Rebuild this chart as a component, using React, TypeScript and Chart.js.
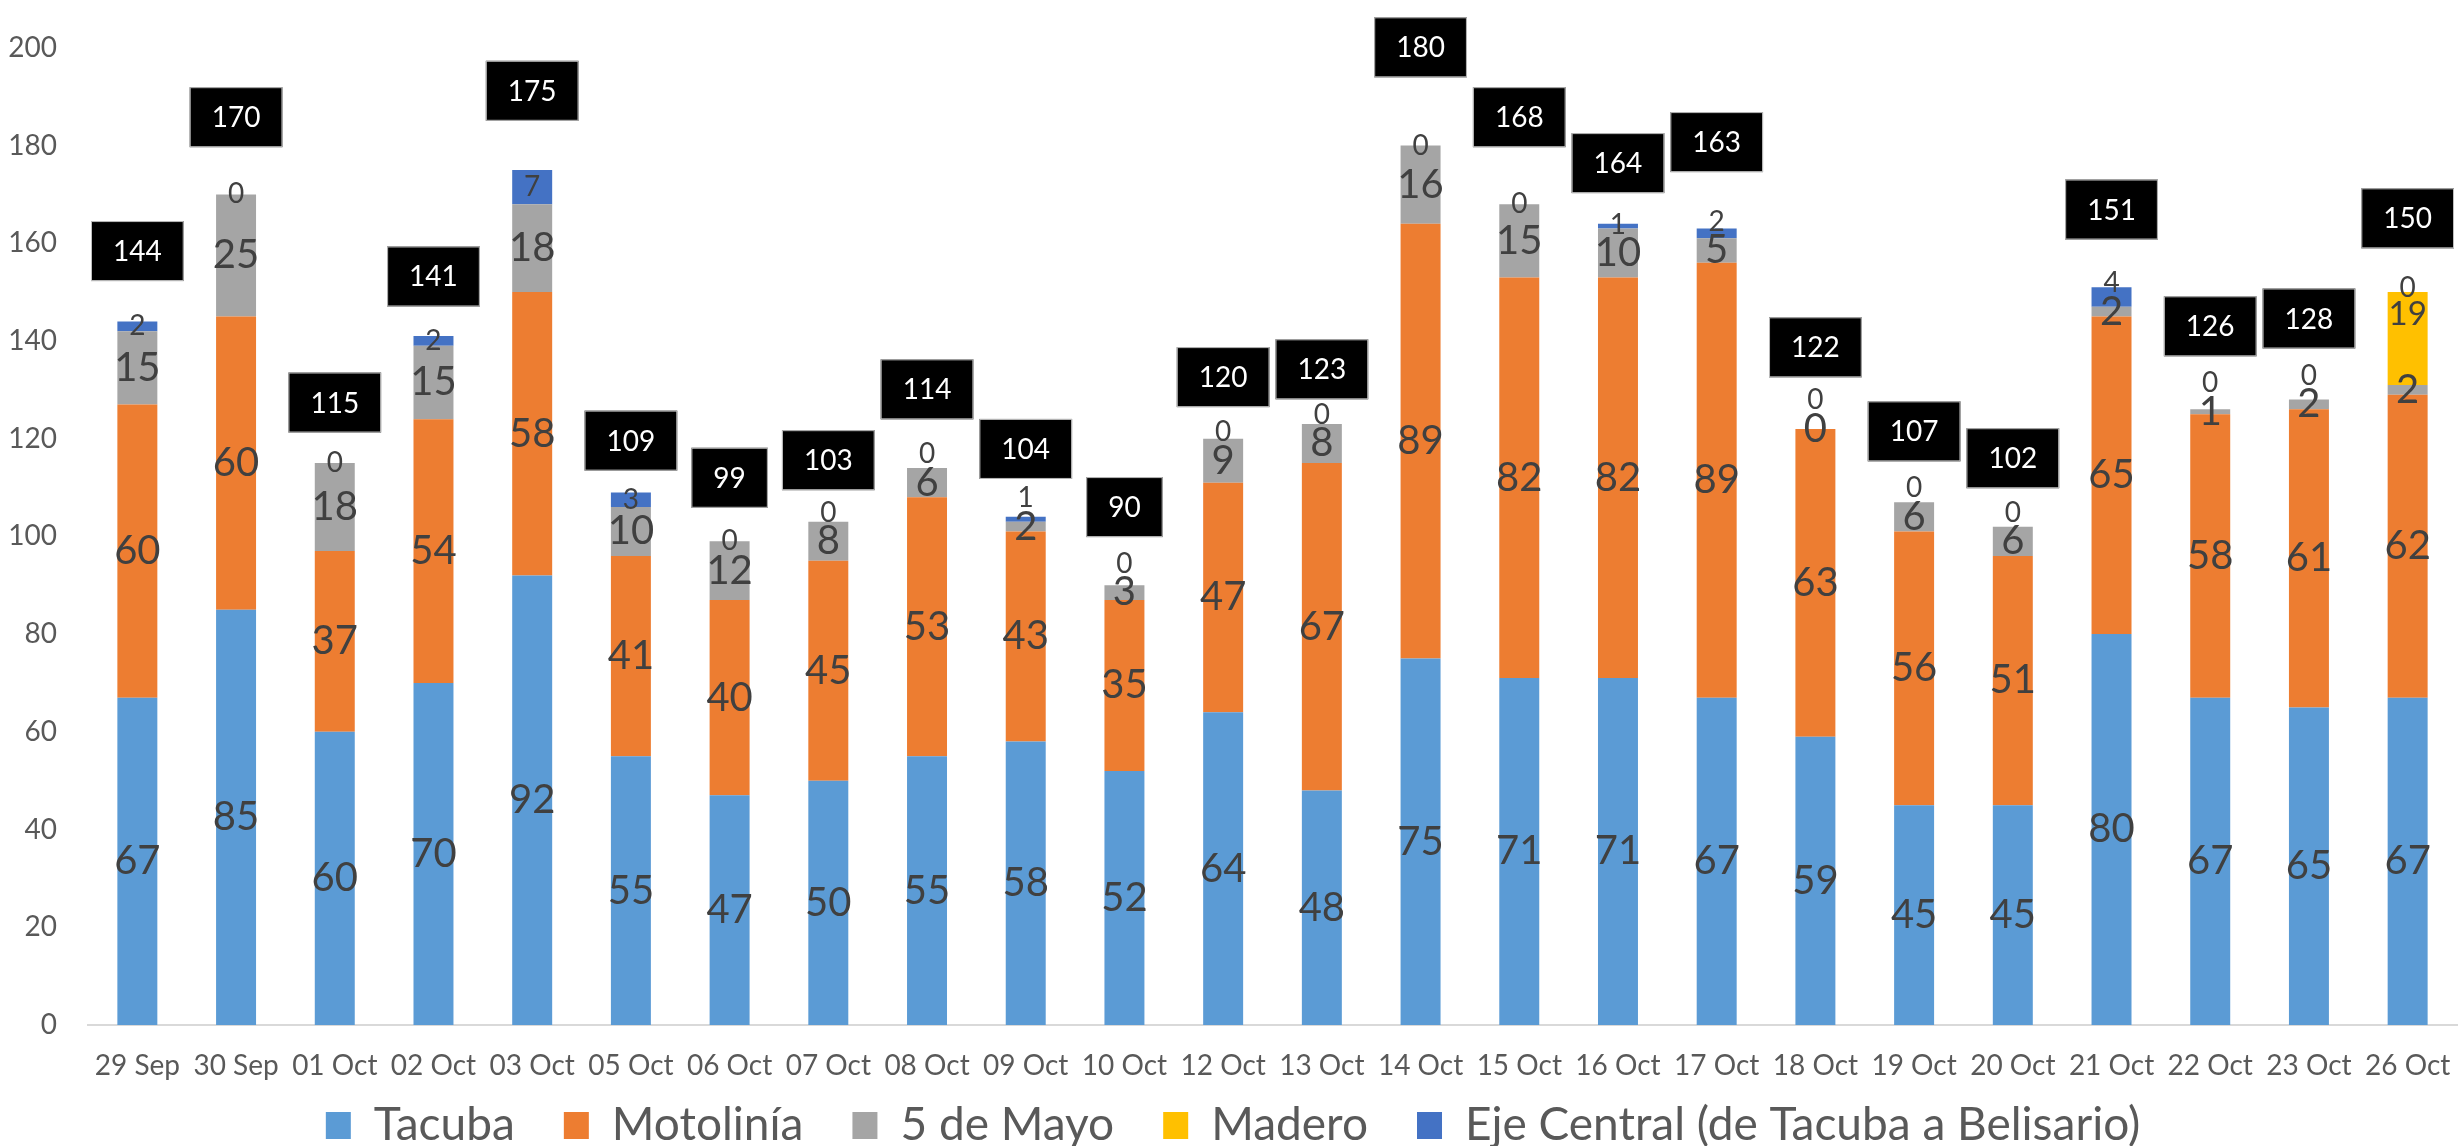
import React, { useEffect, useRef } from 'react';
import { Chart, registerables } from 'chart.js';

Chart.register(...registerables);

// ---------- data ----------
const categories = [
  '29 Sep', '30 Sep', '01 Oct', '02 Oct', '03 Oct', '05 Oct', '06 Oct', '07 Oct',
  '08 Oct', '09 Oct', '10 Oct', '12 Oct', '13 Oct', '14 Oct', '15 Oct', '16 Oct',
  '17 Oct', '18 Oct', '19 Oct', '20 Oct', '21 Oct', '22 Oct', '23 Oct', '26 Oct',
];
const tacuba = [67, 85, 60, 70, 92, 55, 47, 50, 55, 58, 52, 64, 48, 75, 71, 71, 67, 59, 45, 45, 80, 67, 65, 67];
const motolinia = [60, 60, 37, 54, 58, 41, 40, 45, 53, 43, 35, 47, 67, 89, 82, 82, 89, 63, 56, 51, 65, 58, 61, 62];
const cincoDeMayo = [15, 25, 18, 15, 18, 10, 12, 8, 6, 2, 3, 9, 8, 16, 15, 10, 5, 0, 6, 6, 2, 1, 2, 2];
const madero: (number | null)[] = [
  null, null, null, null, null, null, null, null, null, null, null, null,
  null, null, null, null, null, null, null, null, null, null, null, 19,
];
const ejeCentral = [2, 0, 0, 2, 7, 3, 0, 0, 0, 1, 0, 0, 0, 0, 0, 1, 2, 0, 0, 0, 4, 0, 0, 0];
// level (in chart units) at which each total label box sits
const totalLabelLevel = [
  158.4, 185.8, 127.4, 153.2, 191.2, 119.6, 112.0, 115.6, 130.1, 117.9, 106.0, 132.6,
  134.2, 200.1, 185.8, 176.4, 180.7, 138.7, 121.5, 116.0, 166.9, 143.0, 144.6, 165.1,
];
const seriesNames = ['Tacuba', 'Motolinía', '5 de Mayo', 'Madero', 'Eje Central (de Tacuba a Belisario)'];
const yMin = 0;
const yMax = 200;
const yStep = 20;

// ---------- styles ----------
const FONT = 'Lato';
const seriesColors = ['#5B9BD5', '#ED7D31', '#A5A5A5', '#FFC000', '#4472C4'];
const labelSizes = [40, 40, 40, 33, 28];
const labelAnchors = ['center', 'center', 'center', 'insideEnd', 'center'];

const segmentLabels = {
  id: 'segmentLabels',
  afterDatasetsDraw(chart: any) {
    const ctx = chart.ctx;
    const datasets = chart.data.datasets;
    const metas = datasets.map((_: any, di: number) => chart.getDatasetMeta(di));
    ctx.save();
    ctx.fillStyle = '#404040';
    ctx.textAlign = 'center';
    ctx.textBaseline = 'middle';
    for (let i = 0; i < categories.length; i++) {
      let prevCenter = Infinity;
      let prevHalf = 0;
      datasets.forEach((ds: any, di: number) => {
        const v = ds.data[i];
        if (v === null || v === undefined) return;
        const el = metas[di].data[i];
        if (!el) return;
        const p = el.getProps(['x', 'y', 'base'], true);
        const size = labelSizes[di];
        const half = size * 0.36;
        let cy = labelAnchors[di] === 'insideEnd' ? p.y + half + 10 : (p.y + p.base) / 2;
        const limit = prevCenter - (prevHalf + half + 4);
        if (cy > limit) cy = limit;
        ctx.font = `${size}px ${FONT}`;
        ctx.fillText(String(v), p.x, cy);
        prevCenter = cy;
        prevHalf = half;
      });
    }
    ctx.restore();
  },
};

const totalBoxes = {
  id: 'totalBoxes',
  afterDraw(chart: any) {
    const ctx = chart.ctx;
    const xs = chart.scales.x;
    const ys = chart.scales.y;
    ctx.save();
    ctx.font = `28px ${FONT}`;
    ctx.textAlign = 'center';
    ctx.textBaseline = 'middle';
    categories.forEach((_, i) => {
      const total =
        tacuba[i] + motolinia[i] + cincoDeMayo[i] + (madero[i] ?? 0) + ejeCentral[i];
      const txt = String(total);
      const cx = xs.getPixelForValue(i);
      const cy = ys.getPixelForValue(totalLabelLevel[i]);
      const w = ctx.measureText(txt).width + 44;
      const h = 60;
      ctx.fillStyle = '#000000';
      ctx.fillRect(cx - w / 2, cy - h / 2, w, h);
      ctx.strokeStyle = '#BFBFBF';
      ctx.lineWidth = 1;
      ctx.strokeRect(cx - w / 2 + 0.5, cy - h / 2 + 0.5, w - 1, h - 1);
      ctx.fillStyle = '#FFFFFF';
      ctx.fillText(txt, cx, cy + 1);
    });
    ctx.restore();
  },
};

export default function App() {
  const ref = useRef<HTMLCanvasElement | null>(null);

  useEffect(() => {
    if (!ref.current) return;
    const seriesData = [tacuba, motolinia, cincoDeMayo, madero, ejeCentral];
    const chart = new Chart(ref.current, {
      type: 'bar',
      data: {
        labels: categories,
        datasets: seriesData.map((d, i) => ({
          label: seriesNames[i],
          data: d as any,
          backgroundColor: seriesColors[i],
          borderWidth: 0,
          barPercentage: 0.405,
          categoryPercentage: 1,
        })),
      },
      options: {
        responsive: false,
        animation: false,
        devicePixelRatio: 1,
        layout: { padding: { top: 43, right: 1, bottom: -12.5, left: 9 } },
        plugins: {
          legend: {
            position: 'bottom',
            labels: {
              font: { family: FONT, size: 46 },
              color: '#595959',
              boxWidth: 25,
              boxHeight: 27,
              padding: 49,
            },
          },
          tooltip: { enabled: false },
        },
        scales: {
          x: {
            stacked: true,
            grid: { display: false, drawTicks: false },
            border: { display: true, color: '#D9D9D9', width: 2 },
            ticks: {
              font: { family: FONT, size: 28 },
              color: '#595959',
              mirror: true,
              padding: -57.8,
              maxRotation: 0,
              autoSkip: false,
            },
            afterFit: (s: any) => {
              s.height = 28.5;
            },
          },
          y: {
            stacked: true,
            min: yMin,
            max: yMax,
            grid: { display: false, drawTicks: false },
            border: { display: false },
            ticks: {
              stepSize: yStep,
              font: { family: FONT, size: 28 },
              color: '#595959',
              padding: 31,
            },
            afterFit: (s: any) => {
              s.width = 79;
            },
          },
        },
      },
      plugins: [segmentLabels, totalBoxes],
    });
    return () => chart.destroy();
  }, []);

  return (
    <div style={{ position: 'fixed', left: 0, top: 0, width: 2458, height: 1146, background: '#fff' }}>
      <canvas ref={ref} width={2458} height={1146} style={{ display: 'block' }} />
    </div>
  );
}
